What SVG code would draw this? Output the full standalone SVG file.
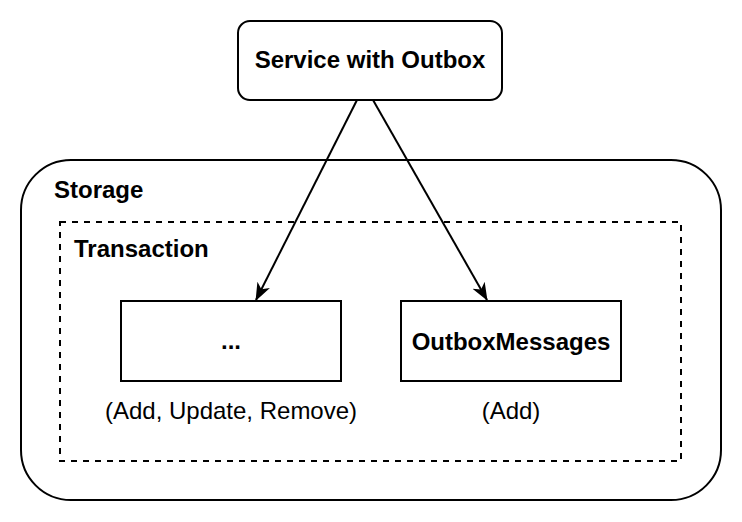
<svg xmlns="http://www.w3.org/2000/svg" width="742" height="522" viewBox="0 0 742 522">
<defs>
<style>
.box{fill:#fff;stroke:#000;stroke-width:2}
.b{font-family:"Liberation Sans",Arial,sans-serif;font-weight:bold;font-size:24px;fill:#000}
.n{font-family:"Liberation Sans",Arial,sans-serif;font-size:24px;fill:#000}
.c{stroke:#000;stroke-width:2;fill:none}
</style>
<marker id="ah" viewBox="0 0 18 16" refX="17" refY="8" markerWidth="18" markerHeight="16" markerUnits="userSpaceOnUse" orient="auto">
<path d="M0,1 L18,8 L0,15 L5,8 Z" fill="#000"/>
</marker>
</defs>
<rect width="742" height="522" fill="#fff"/>
<g id="storage">
<rect class="box" x="21" y="160" width="700" height="340" rx="50" ry="50"/>
<text class="b" x="54" y="198">Storage</text>
</g>
<g id="transaction">
<rect x="60" y="222" width="621" height="239" fill="none" stroke="#000" stroke-width="2" stroke-dasharray="6 6"/>
<text class="b" x="74" y="257">Transaction</text>
</g>
<g id="service">
<rect class="box" x="238" y="21" width="264" height="79" rx="12" ry="12"/>
<text class="b" x="370" y="68" text-anchor="middle">Service with Outbox</text>
</g>
<g id="other">
<rect class="box" x="121" y="301" width="220" height="80"/>
<text class="b" x="231" y="349" text-anchor="middle">...</text>
<text class="n" x="231" y="419" text-anchor="middle">(Add, Update, Remove)</text>
</g>
<g id="outbox">
<rect class="box" x="401" y="301" width="220" height="80"/>
<text class="b" x="511" y="350" text-anchor="middle">OutboxMessages</text>
<text class="n" x="511" y="419" text-anchor="middle">(Add)</text>
</g>
<g id="connectors">
<line class="c" x1="357" y1="100" x2="256" y2="300" marker-end="url(#ah)"/>
<line class="c" x1="373" y1="100" x2="487" y2="300" marker-end="url(#ah)"/>
</g>
</svg>
